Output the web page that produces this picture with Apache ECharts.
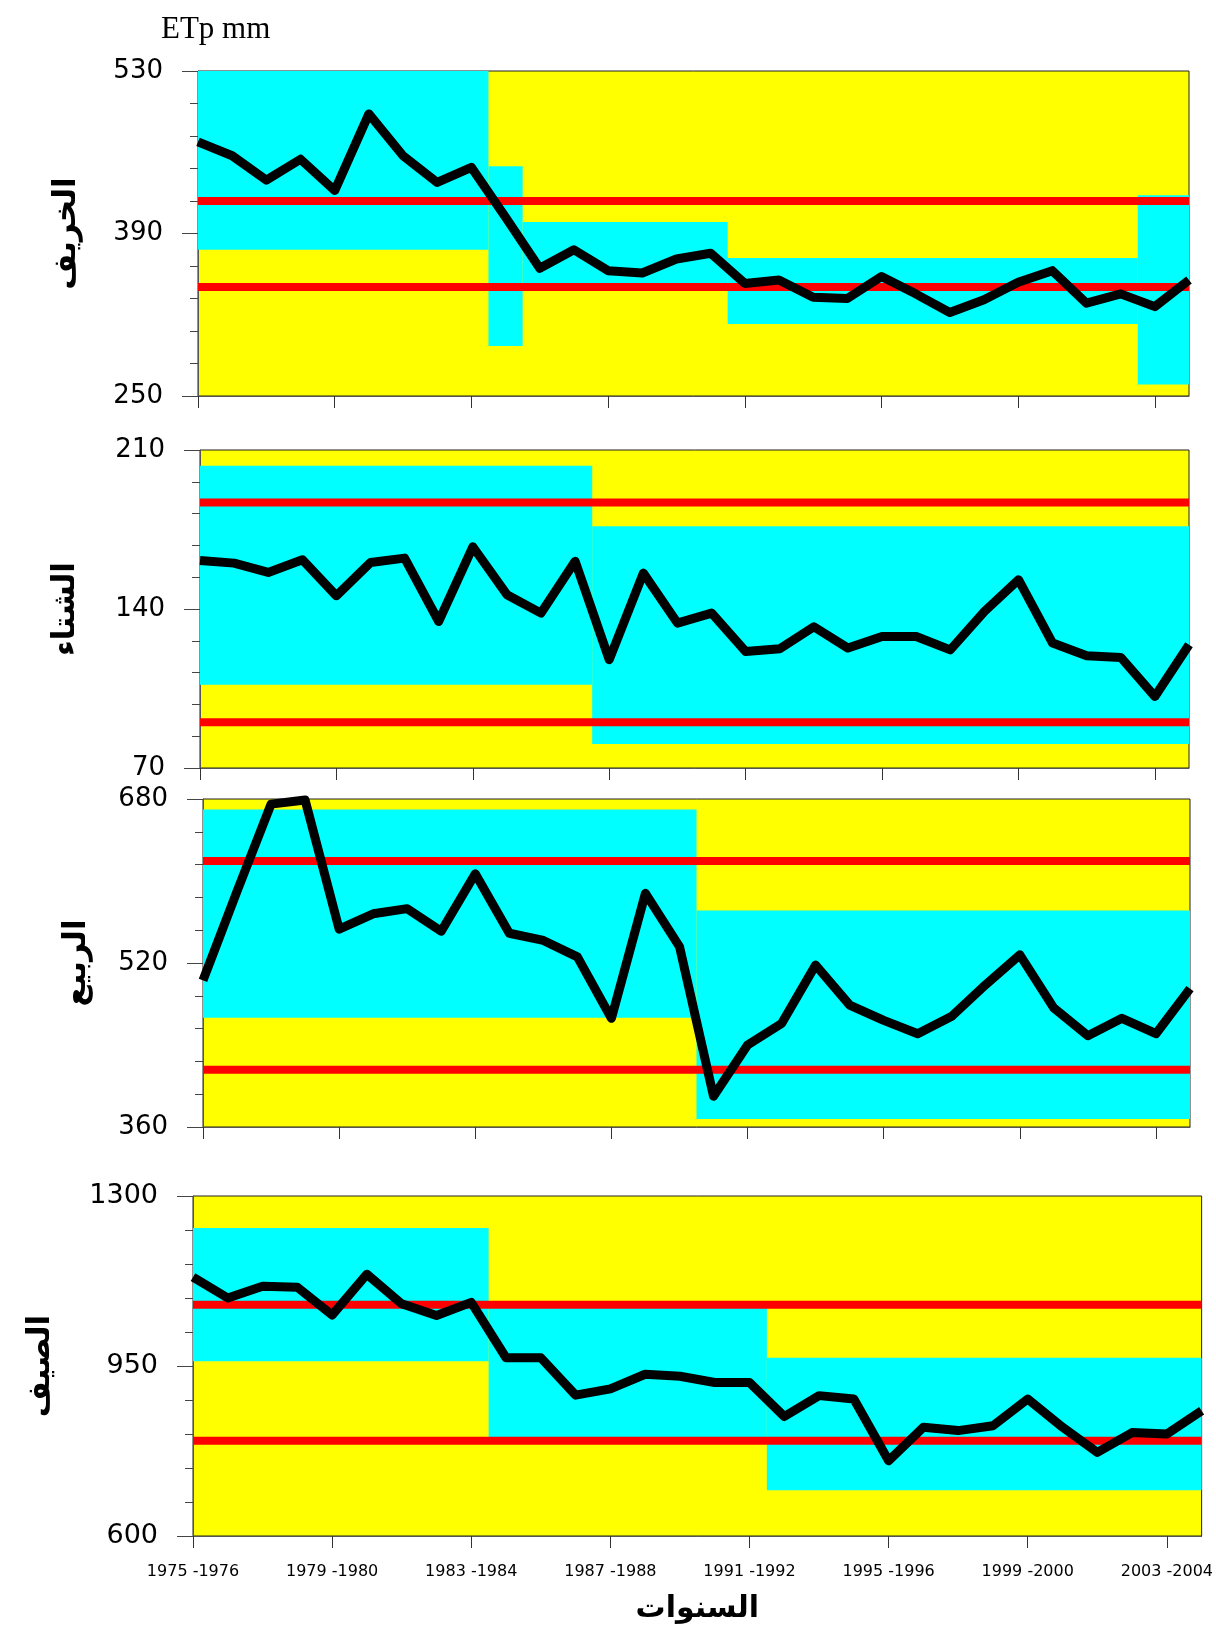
<!DOCTYPE html>
<html><head><meta charset="utf-8">
<script src="https://cdn.jsdelivr.net/npm/echarts@6/dist/echarts.min.js"></script>
<style>html,body{margin:0;padding:0;background:#fff}#c{width:1216px;height:1625px}</style>
</head><body><div id="c"></div>
<script>
// ---- data ----
const categories = ["1975 -1976","1976 -1977","1977 -1978","1978 -1979","1979 -1980","1980 -1981","1981 -1982","1982 -1983","1983 -1984","1984 -1985","1985 -1986","1986 -1987","1987 -1988","1988 -1989","1989 -1990","1990 -1991","1991 -1992","1992 -1993","1993 -1994","1994 -1995","1995 -1996","1996 -1997","1997 -1998","1998 -1999","1999 -2000","2000 -2001","2001 -2002","2002 -2003","2003 -2004","2004 -2005"];
const xLabelIndex = [0, 4, 8, 12, 16, 20, 24, 28];

const autumn = [469,457,436,454,427,493,457,434,447,404,360,376,358,356,368,373,347,350,335,334,353,338,322,333,348,358,330,338,327,350];
const winter = [161.4,160.2,156.1,161.7,145.8,160.5,162.4,134.5,167.4,146.3,138.2,161,117.7,155.8,133.8,138.2,121.3,122.5,132.2,122.8,127.9,127.9,122,138.9,152.9,125,119.4,118.7,101.5,124.3];
const spring = [503,590,675,679,553,568,573,551,607,549,542,526,466,588,536,390,440,461,518,479,464,451,468,499,528,476,449,466,451,495];
const summer = [1133,1090,1114,1112,1055,1139,1078,1054,1081,967,967,890,903,933,929,916,916,846,889,882,755,824,817,827,882,824,772,813,810,858];

// segment bands: [fromIndex, toIndex, low, high]
const autumnBands = [[0,8.5,376,530],[8.5,9.5,293,448],[9.5,15.5,346,400],[15.5,27.5,312,369],[27.5,29,260,423]];
const winterBands = [[0,11.5,106.7,203.1],[11.5,29,80.6,176.4]];
const springBands = [[0,14.5,466.7,669.7],[14.5,29,367.8,571.3]];
const summerBands = [[0,8.5,960,1234],[8.5,16.5,804,1074],[16.5,29,694,967]];

// limit lines (upper, lower)
const autumnLimits = [418, 344];
const winterLimits = [186.9, 90.1];
const springLimits = [619.5, 415.8];
const summerLimits = [1076, 796];

// y tick labels
const autumnTicks = [250, 390, 530];
const winterTicks = [70, 140, 210];
const springTicks = [360, 520, 680];
const summerTicks = [600, 950, 1300];

const seasonNames = ['الخريف', 'الشتاء', 'الربيع', 'الصيف'];
const xTitle = 'السنوات';
const unitTitle = 'ETp mm';

// ---- layout ----
const panels = [
  {title: seasonNames[0], values: autumn, bands: autumnBands, limits: autumnLimits, ticks: autumnTicks, minorStep: 28,
   grid: {left: 198, top: 71, width: 991, height: 325}, labelSize: 26, nameGap: 116},
  {title: seasonNames[1], values: winter, bands: winterBands, limits: winterLimits, ticks: winterTicks, minorStep: 14,
   grid: {left: 200, top: 450, width: 989, height: 318}, labelSize: 26, nameGap: 119},
  {title: seasonNames[2], values: spring, bands: springBands, limits: springLimits, ticks: springTicks, minorStep: 32,
   grid: {left: 203, top: 799, width: 987, height: 328}, labelSize: 26, nameGap: 111},
  {title: seasonNames[3], values: summer, bands: summerBands, limits: summerLimits, ticks: summerTicks, minorStep: 70,
   grid: {left: 193, top: 1196, width: 1009, height: 341}, labelSize: 27, nameGap: 137}
];

const lastIdx = categories.length - 1;
const option = {
  animation: false,
  backgroundColor: '#ffffff',
  grid: [], xAxis: [], yAxis: [], series: [],
  graphic: [{
    type: 'text', left: 161, top: 14,
    style: {text: unitTitle, font: '31px "Liberation Serif"', fill: '#000'}
  }]
};

panels.forEach((p, i) => {
  option.grid.push(Object.assign({show: true, backgroundColor: '#ffff00', borderColor: '#222', borderWidth: 1}, p.grid));
  const min = p.ticks[0], max = p.ticks[p.ticks.length - 1];
  const minor = [];
  for (let v = min; v <= max + 1e-9; v += p.minorStep) minor.push(v);
  const isLast = i === panels.length - 1;

  option.xAxis.push({
    type: 'value', gridIndex: i, min: 0, max: lastIdx, position: 'bottom',
    axisLine: {show: true, lineStyle: {color: '#555', width: 1}},
    axisTick: {show: true, customValues: xLabelIndex, length: 12, lineStyle: {color: '#333', width: 1}},
    axisLabel: {show: isLast, customValues: xLabelIndex, formatter: v => categories[Math.round(v)],
      fontFamily: 'DejaVu Sans', fontSize: 16, color: '#000', margin: 28},
    splitLine: {show: false},
    name: isLast ? xTitle : '', nameLocation: 'middle', nameGap: 58,
    nameTextStyle: {fontFamily: 'DejaVu Sans', fontWeight: 'bold', fontSize: 30, color: '#000'}
  });

  option.yAxis.push({
    type: 'value', gridIndex: i, min: min, max: max, position: 'left',
    axisLine: {show: true, lineStyle: {color: '#555', width: 1}},
    axisTick: {show: true, customValues: minor, length: 8, lineStyle: {color: '#444', width: 1}},
    axisLabel: {show: true, customValues: p.ticks, formatter: v => String(v),
      fontFamily: 'DejaVu Sans', fontSize: p.labelSize, color: '#000', margin: 35},
    splitLine: {show: false},
    name: p.title, nameLocation: 'middle', nameRotate: 90, nameGap: p.nameGap,
    nameTextStyle: {fontFamily: 'DejaVu Sans', fontWeight: 'bold', fontSize: 31, color: '#000'}
  });
  option.yAxis.push({
    type: 'value', gridIndex: i, min: min, max: max, position: 'left',
    axisLine: {show: false},
    axisTick: {show: true, customValues: p.ticks, length: 16, lineStyle: {color: '#444', width: 1}},
    axisLabel: {show: false}, splitLine: {show: false}
  });
  const yIdx = 2 * i;

  // upper limit line carries the cyan segment bands
  option.series.push({
    type: 'line', xAxisIndex: i, yAxisIndex: yIdx, z: 3, symbol: 'none', silent: true,
    data: [[0, p.limits[0]], [lastIdx, p.limits[0]]],
    lineStyle: {color: '#ff0000', width: 8},
    markArea: {
      silent: true,
      itemStyle: {color: '#00ffff', opacity: 1, borderWidth: 0},
      data: p.bands.map(b => [{xAxis: b[0], yAxis: b[3]}, {xAxis: b[1], yAxis: b[2]}])
    }
  });
  option.series.push({
    type: 'line', xAxisIndex: i, yAxisIndex: yIdx, z: 3, symbol: 'none', silent: true,
    data: [[0, p.limits[1]], [lastIdx, p.limits[1]]],
    lineStyle: {color: '#ff0000', width: 8}
  });
  option.series.push({
    type: 'line', xAxisIndex: i, yAxisIndex: yIdx, z: 5, symbol: 'none', clip: false,
    data: p.values.map((v, k) => [k, v]),
    lineStyle: {color: '#000', width: 9, join: 'round'}
  });
});

const chart = echarts.init(document.getElementById('c'), null, {renderer: 'canvas'});
chart.setOption(option);
</script>
</body></html>
